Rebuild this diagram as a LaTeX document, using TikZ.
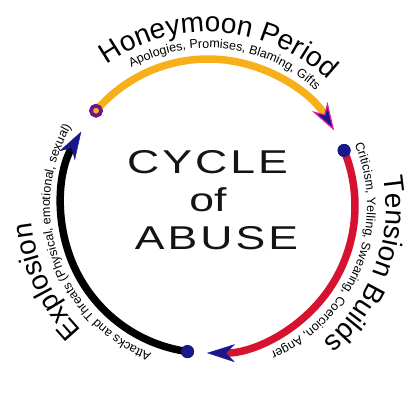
\documentclass[tikz,border=0pt]{standalone}
\usepackage{fontspec}
\setmainfont{Liberation Sans}
\usetikzlibrary{decorations.text,arrows.meta}
\definecolor{arcorange}{RGB}{247,176,26}
\definecolor{arcred}{RGB}{213,18,48}
\definecolor{navy}{RGB}{24,24,140}
\definecolor{dotpurple}{RGB}{105,20,145}
\definecolor{tipmagenta}{RGB}{225,30,160}
\definecolor{inktext}{RGB}{20,20,20}
\newcommand\bigtitle{\fontsize{28}{28}\selectfont}
\newcommand\subtitle{\fontsize{12.5}{12.5}\selectfont}
\newcommand\centerfont{\fontsize{33}{33}\selectfont}
\newcommand\lsp{\kern2.3pt}
\begin{document}
\begin{tikzpicture}[x=1pt,y=1pt,
  cyclearc/.style={line width=7.5pt},
  navytip/.style={-{Stealth[length=28pt,width=18pt,inset=9pt,color=navy,fill=navy,line width=0.4pt]}},
  magentatip/.style={-{Stealth[length=28pt,width=18pt,inset=9pt,color=tipmagenta,fill=navy,line width=1.2pt]}},
  dotmark/.style={circle,fill=navy,inner sep=0pt,minimum size=13pt},
  ringdot/.style={circle,fill=arcorange,draw=dotpurple,line width=3.6pt,inner sep=0pt,minimum size=10pt},
  centertext/.style={inner sep=0pt,anchor=base,text=inktext,font=\centerfont},
  arctext/.style={decorate,text=inktext}
]
\useasboundingbox (-208,-208) rectangle (207,206);

% central title
\node[centertext] (cyc) at (-0.5,32) {\scalebox{1.35}[1]{C\lsp Y\lsp C\lsp L\lsp E}};
\node[centertext] (of) at (0,-6) {\scalebox{1.35}[1]{of}};
\node[centertext] (abuse) at (8.5,-44) {\scalebox{1.35}[1]{A\lsp B\lsp U\lsp S\lsp E}};

% start dots (named)
\node[ringdot] (honeystart) at (139.6:147) {};
\node[dotmark] (tensionstart) at (22.2:147) {};
\node[dotmark] (explstart) at (262:147) {};

% arcs
\draw[cyclearc, arcorange, magentatip] (honeystart.center) arc[start angle=139.6, end angle=30.9, radius=147];
\draw[cyclearc, arcred, navytip] (tensionstart.center) arc[start angle=22.2, end angle=-90.4, radius=147];
\draw[cyclearc, black, navytip] (explstart.center) arc[start angle=262, end angle=149.6, radius=147];

% redraw dots on top
\node[ringdot] at (honeystart) {};
\node[dotmark] at (tensionstart) {};
\node[dotmark] at (explstart) {};

% curved texts
\path[arctext, decoration={text along path, text align=center,
  text={|\bigtitle|Honeymoon Period}}]
  (166:174) arc[start angle=166, end angle=6, radius=174];
\path[arctext, decoration={text along path, text align=center,
  text={|\subtitle|Apologies, Promises, Blaming, Gifts}}]
  (153:158) arc[start angle=153, end angle=13, radius=158];

\path[arctext, decoration={text along path, text align=center,
  text={|\bigtitle|Tension Builds}}]
  (40:178) arc[start angle=40, end angle=-80, radius=178];
\path[arctext, decoration={text along path, text align=center,
  text={|\subtitle|Criticism, Yelling, Swearing, Coercion, Anger}}]
  (48:159) arc[start angle=48, end angle=-92, radius=159];

\path[arctext, decoration={text along path, text align=center,
  text={|\bigtitle|Explosion}}]
  (265:177) arc[start angle=265, end angle=145, radius=177];
\path[arctext, decoration={text along path, text align=center,
  text={|\subtitle|Attacks and Threats (Physical, emotional, sexual)}}]
  (269.5:158) arc[start angle=269.5, end angle=129.5, radius=158];
\end{tikzpicture}
\end{document}
